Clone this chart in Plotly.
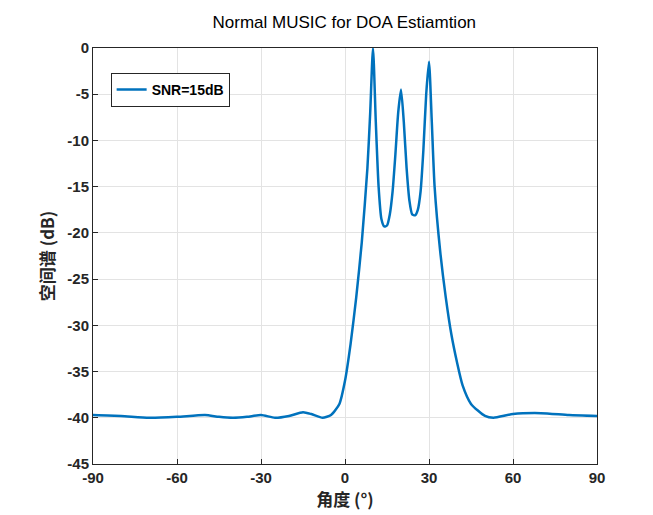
import plotly.graph_objects as go

angle = [-90,-80,-70,-60,-50,-45,-40,-35,-30,-25,-20,-15,-12,-8,-5,-2,0,2,4,6,8,9,10,11,12,13,14,15,16,17,18,19,20,21,22,23,24,25,26,27,28,29,30,31,32,34,36,38,40,42,45,50,53,60,70,80,90]
spectrum = [-39.7,-39.8,-40.0,-39.9,-39.7,-39.9,-40.0,-39.9,-39.7,-40.0,-39.8,-39.4,-39.6,-40.0,-39.7,-38.5,-36,-32,-27,-21,-13,-7,0,-8,-15,-18.5,-19.3,-19.2,-18,-15.5,-11.5,-7,-4.5,-8,-13,-16.5,-18,-18.1,-17.5,-15.5,-11,-5,-1.5,-8,-15,-22,-27,-31,-34,-36.5,-38.5,-39.8,-40.0,-39.6,-39.5,-39.7,-39.8]
xticks = [-90,-60,-30,0,30,60,90]
xlabels = ["-90","-60","-30","0","30","60","90"]
yticks = [0,-5,-10,-15,-20,-25,-30,-35,-40,-45]
ylabels = ["0","-5","-10","-15","-20","-25","-30","-35","-40","-45"]

fig = go.Figure(go.Scatter(x=angle, y=spectrum, mode="lines", name="SNR=15dB",
                           line=dict(color="#0072BD", width=2.5, shape="spline", smoothing=0.6)))
ax = dict(showline=True, linecolor="#262626", mirror=True, gridcolor="#e3e3e3", zeroline=False,
          ticks="inside", ticklen=5, tickcolor="#262626", automargin=False,
          tickfont=dict(family="Arial, Liberation Sans", size=15, color="#262626", weight="bold"))
fig.update_layout(
    width=653, height=515, margin=dict(l=85, r=64, t=40, b=59, autoexpand=False),
    paper_bgcolor="white", plot_bgcolor="white",
    title=dict(text="Normal MUSIC for DOA Estiamtion", x=0.515, y=0.985, yanchor="top", automargin=False,
               font=dict(family="Arial, Liberation Sans", size=17, color="black")),
    xaxis=dict(range=[-90, 90], tickvals=xticks, ticktext=xlabels,
               title=dict(text="角度 (°)", standoff=6, font=dict(family="Noto Sans CJK SC", size=17, color="#262626", weight="bold")), **ax),
    yaxis=dict(range=[-45, 0], tickvals=yticks, ticktext=ylabels,
               title=dict(text="空间谱 (dB)", standoff=8, font=dict(family="Noto Sans CJK SC", size=17, color="#262626", weight="bold")), **ax),
    legend=dict(x=0.035, y=0.94, xanchor="left", yanchor="top", bgcolor="white",
                bordercolor="#262626", borderwidth=1,
                font=dict(family="Arial, Liberation Sans", size=14, color="black", weight="bold")),
    showlegend=True,
)
fig.write_html("out.html")
